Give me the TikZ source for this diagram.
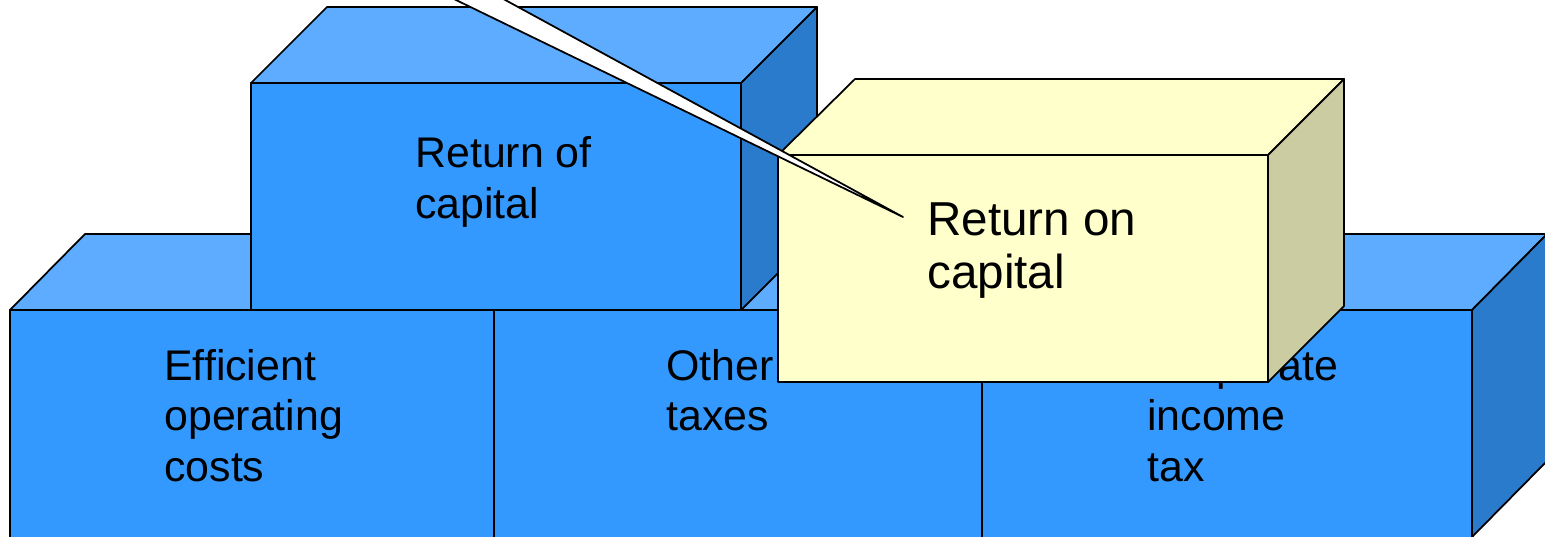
\documentclass[tikz,border=0pt]{standalone}
\usepackage{fontspec}
\setmainfont{Liberation Sans}
\definecolor{bFront}{HTML}{3399FF}
\definecolor{bTop}{HTML}{5EACFF}
\definecolor{bSide}{HTML}{2B7BCC}
\definecolor{yFront}{HTML}{FFFFCC}
\definecolor{ySide}{HTML}{CCCCA3}
\tikzset{
  edge/.style={draw=black, line width=1pt, line join=round},
  bfront/.style={edge, fill=bFront},
  btop/.style={edge, fill=bTop},
  bside/.style={edge, fill=bSide},
  yfront/.style={edge, fill=yFront},
  yside/.style={edge, fill=ySide},
  bluetext/.style={anchor=base west, inner sep=0pt, font=\fontsize{24.4pt}{28.8pt}\selectfont},
  yellowtext/.style={anchor=base west, inner sep=0pt, font=\fontsize{27.1pt}{30.2pt}\selectfont},
  wedge/.style={edge, fill=white}
}
\begin{document}
\begin{tikzpicture}[x=0.02cm, y=-0.02cm]
\useasboundingbox (0,0) rectangle (1545,537);
\clip (0,0) rectangle (1545,537);
% bottom row
\path[btop] (10,310) -- (85,234) -- (569,234) -- (494,310) -- cycle;
\path[btop] (494,310) -- (569,234) -- (1057,234) -- (982,310) -- cycle;
\path[btop] (982,310) -- (1057,234) -- (1547,234) -- (1472,310) -- cycle;
\path[bside] (1472,310) -- (1547,234) -- (1547,461) -- (1472,537) -- cycle;
\path[bfront] (10,310) rectangle (494,540);
\path[bfront] (494,310) rectangle (982,540);
\path[bfront] (982,310) rectangle (1472,540);
\node[bluetext] (eff) at (164,380) {\vtop{\baselineskip=28.8pt\hbox{Efficient}\hbox{operating}\hbox{costs}}};
\node[bluetext] (oth) at (666,380) {\vtop{\baselineskip=28.8pt\hbox{Other}\hbox{taxes}}};
\node[bluetext] (cor) at (1147,380) {\vtop{\baselineskip=28.8pt\hbox{Corporate}\hbox{income}\hbox{tax}}};
% upper box
\path[btop] (251,83) -- (327,7) -- (817,7) -- (741,83) -- cycle;
\path[bside] (741,83) -- (817,7) -- (817,234) -- (741,310) -- cycle;
\path[bfront] (251,83) rectangle (741,310);
\node[bluetext] (roc) at (415,168) {\vtop{\baselineskip=28.8pt\hbox{Return of}\hbox{capital}}};
% yellow box
\path[yfront] (778,155) -- (855,79) -- (1344,79) -- (1268,155) -- cycle;
\path[yside] (1268,155) -- (1344,79) -- (1344,306) -- (1268,382) -- cycle;
\path[yfront] (778,155) rectangle (1268,382);
\node[yellowtext] (ron) at (927,235) {\vtop{\baselineskip=30.2pt\hbox{Return on}\hbox{capital}}};
% callout wedge
\coordinate (tip) at (903,217);
\path[wedge] (250,-100) -- (tip) -- (322,-100) -- cycle;
\end{tikzpicture}
\end{document}
